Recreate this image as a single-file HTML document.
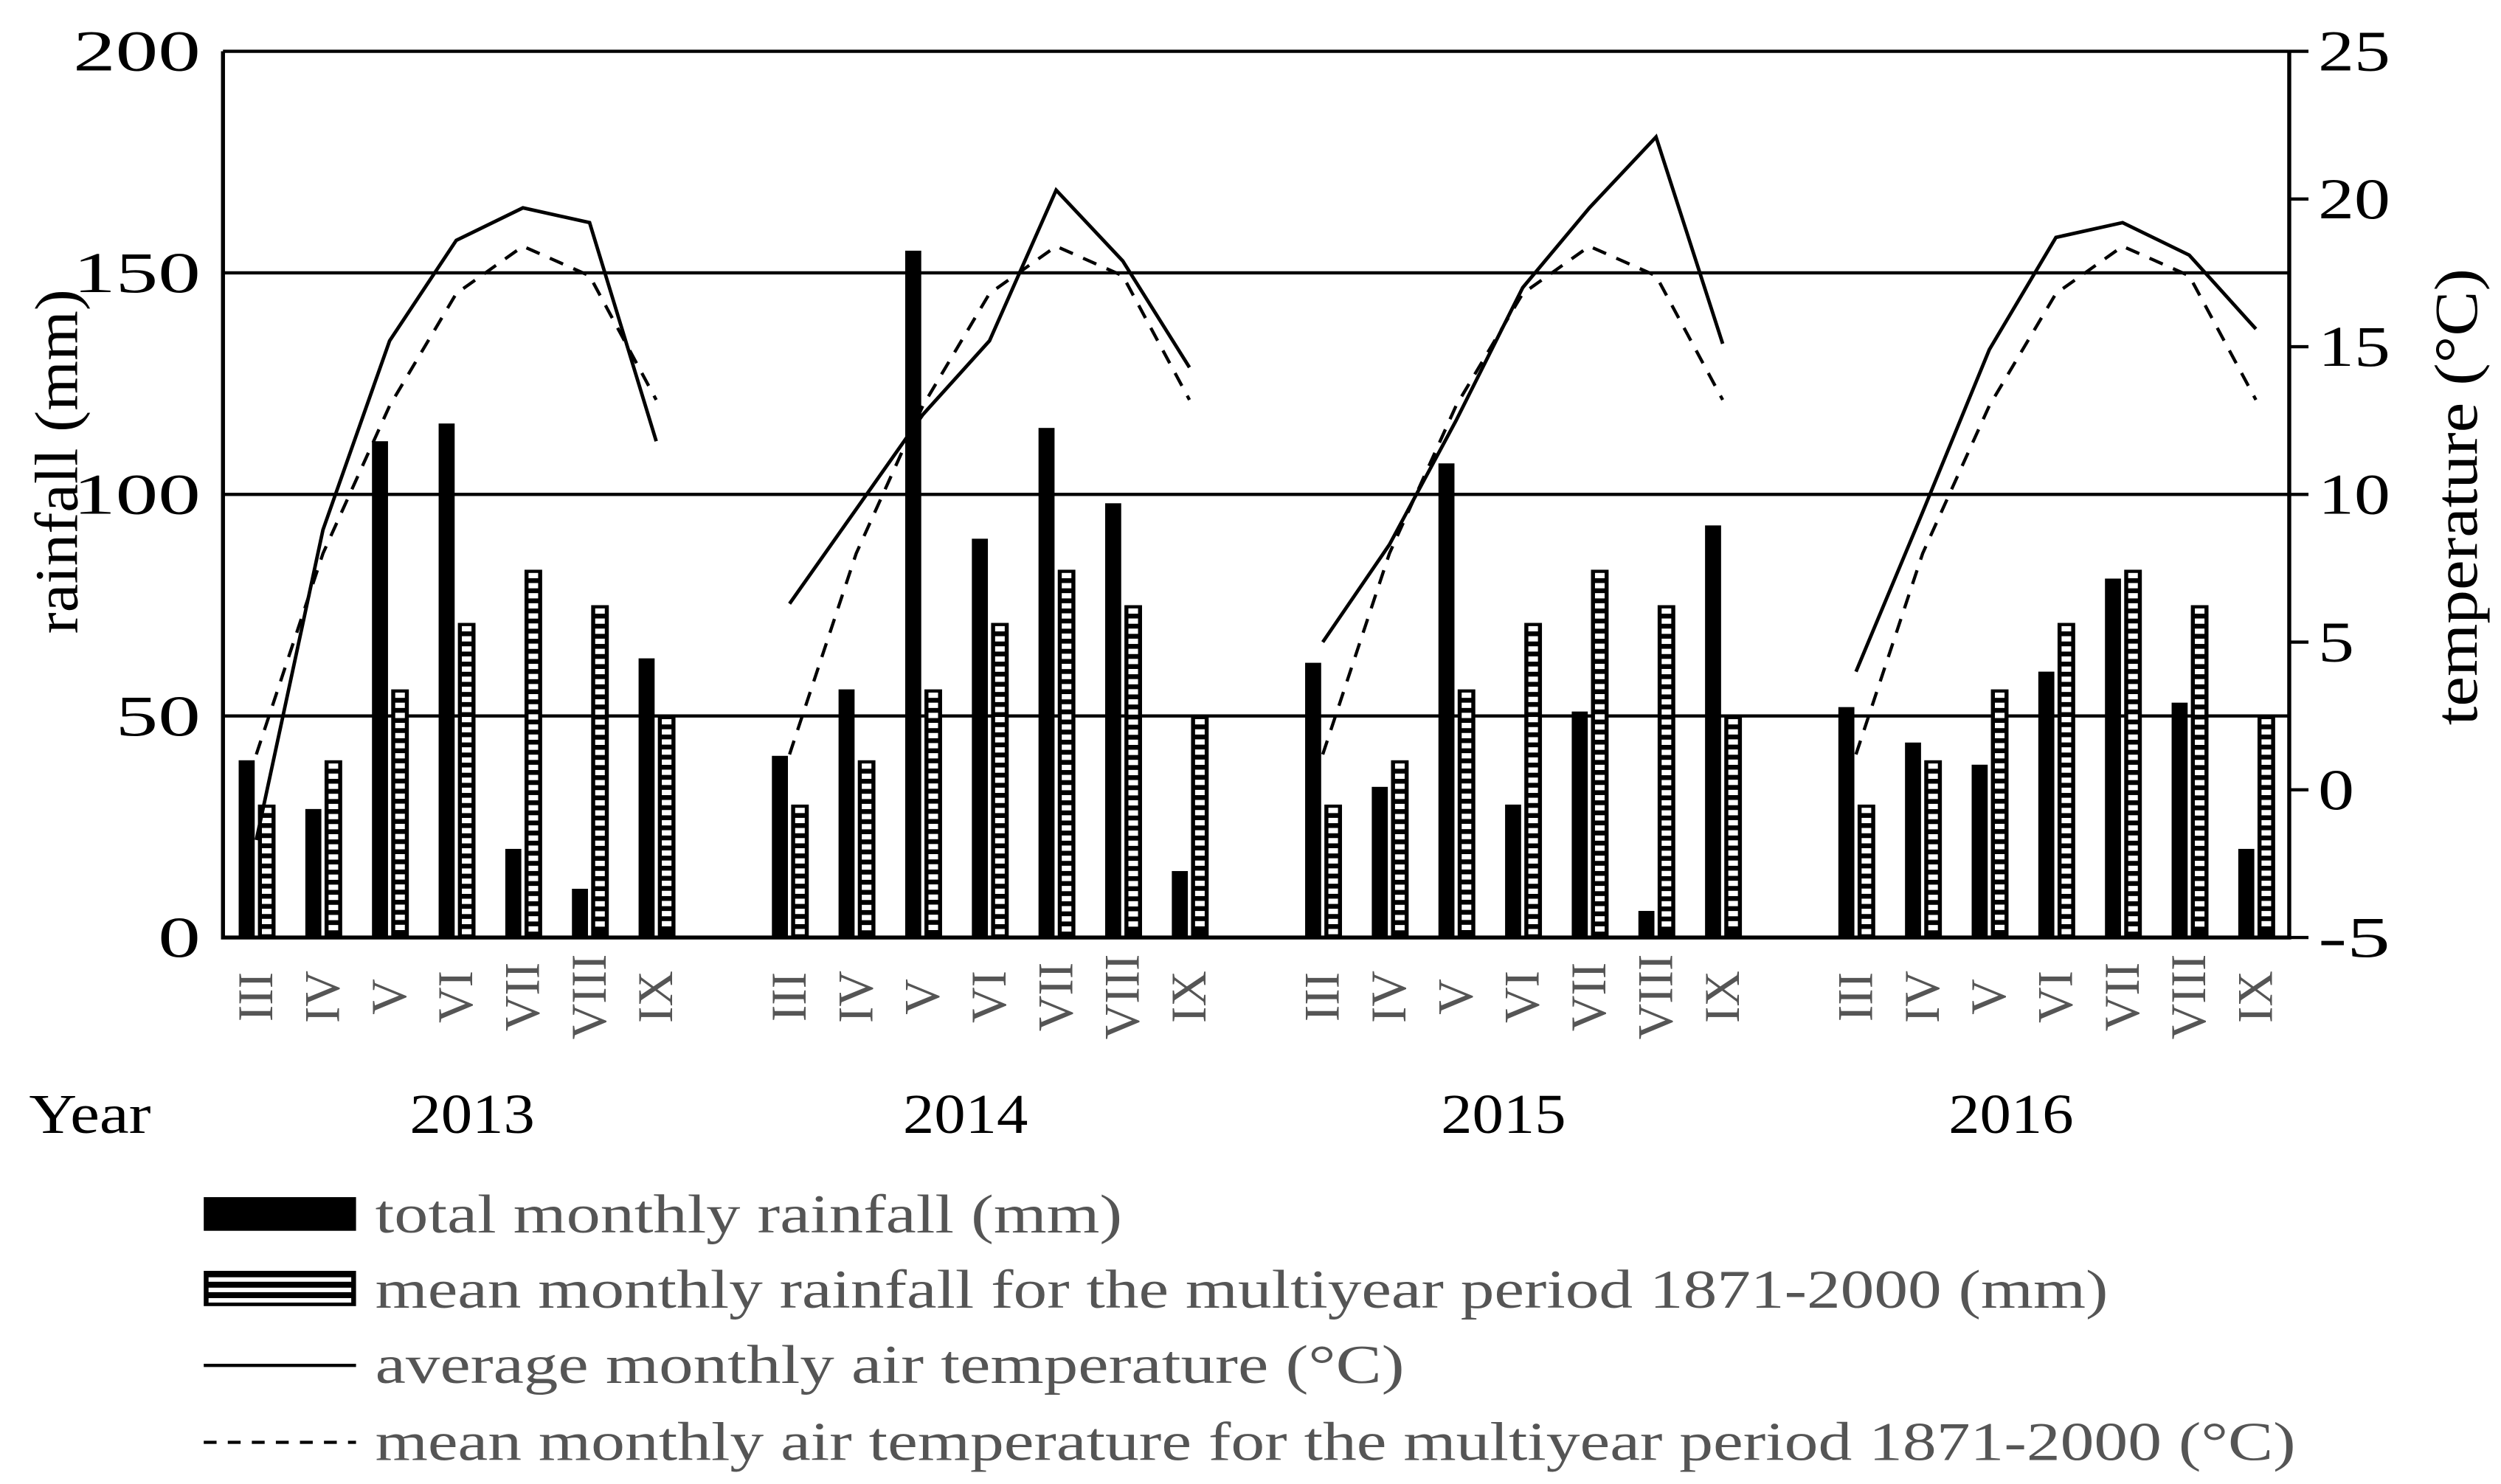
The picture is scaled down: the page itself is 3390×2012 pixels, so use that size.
<!DOCTYPE html>
<html><head><meta charset="utf-8"><style>
html,body{margin:0;padding:0;background:#fff}
svg{display:block}
text{font-family:"Liberation Serif",serif}
</style></head><body>
<svg id="chart" width="3390" height="2012" viewBox="0 0 1560 926" xmlns="http://www.w3.org/2000/svg">
<g id="grid"></g>
<g id="bars"></g>
<g id="lines"></g>
<g id="axes"></g>
<text x="48" y="288" font-size="38" text-anchor="middle" textLength="215" lengthAdjust="spacingAndGlyphs" transform="rotate(-90 48 288)">rainfall (mm)</text>
<text x="1545" y="310" font-size="38" text-anchor="middle" textLength="285" lengthAdjust="spacingAndGlyphs" transform="rotate(-90 1545 310)">temperature (°C)</text>
<text x="18" y="707" font-size="35" textLength="76" lengthAdjust="spacingAndGlyphs">Year</text>
<g>
<rect x="127" y="747" width="95" height="21" fill="#000"/>
<text x="234" y="769" font-size="34" fill="#555" textLength="466" lengthAdjust="spacingAndGlyphs">total monthly rainfall (mm)</text>
<g id="legHatch"></g>
<text x="234" y="816" font-size="34" fill="#555" textLength="1081" lengthAdjust="spacingAndGlyphs">mean monthly rainfall for the multiyear period 1871-2000 (mm)</text>
<line x1="127" y1="852" x2="222" y2="852" stroke="#000" stroke-width="2"/>
<text x="234" y="863" font-size="34" fill="#555" textLength="642" lengthAdjust="spacingAndGlyphs">average monthly air temperature (°C)</text>
<line x1="127" y1="900" x2="222" y2="900" stroke="#000" stroke-width="2" stroke-dasharray="8,7"/>
<text x="234" y="911" font-size="34" fill="#555" textLength="1198" lengthAdjust="spacingAndGlyphs">mean monthly air temperature for the multiyear period 1871-2000 (°C)</text>
</g>
</svg>
<script>
const years = ["2013","2014","2015","2016"];
const months = ["III","IV","V","VI","VII","VIII","IX"];
const rain2013 = [40,29,112,116,20,11,63];
const rain2014 = [41,56,155,90,115,98,15];
const rain2015 = [62,34,107,30,51,6,93];
const rain2016 = [52,44,39,60,81,53,20];
const rainMean = [30,40,56,71,83,75,50];
const temp2013 = [-1.7,8.8,15.2,18.6,19.7,19.2,11.8];
const temp2014 = [6.3,9.5,12.7,15.2,20.3,17.9,14.3];
const temp2015 = [5.0,8.3,12.5,17.0,19.7,22.1,15.1];
const temp2016 = [4.0,9.4,14.9,18.7,19.2,18.1,15.6];
const tempMean = [1.2,8.0,13.0,16.8,18.4,17.4,13.2];
const rainTicks = [0,50,100,150,200];
const tempTicks = [-5,0,5,10,15,20,25];

const rainYears=[rain2013,rain2014,rain2015,rain2016];
const tempYears=[temp2013,temp2014,temp2015,temp2016];
const yearOffset=[10,-15,-12,-28];
const NS="http://www.w3.org/2000/svg";
const L=139,R=1428,T=32,B=585,slot=(R-L)/31;
const yR=v=>B-v*(B-T)/200;
const yT=v=>B-(v+5)*(B-T)/30;
const xC=(g,m)=>L+(g*8+m+0.5)*slot;
function mk(p,tag,at){const e=document.createElementNS(NS,tag);for(const k in at)e.setAttribute(k,at[k]);p.appendChild(e);return e;}
const grid=document.getElementById('grid'),bars=document.getElementById('bars'),lines=document.getElementById('lines'),axes=document.getElementById('axes');
rainTicks.forEach(v=>{
  if(v>0){const g=mk(grid,'line',{x1:L,x2:R,y1:yR(v),y2:yR(v),stroke:'#000','stroke-width':2});
  
  }
  const s=String(v);
  const t=mk(axes,'text',{x:125,y:yR(v)+12,'font-size':36,'text-anchor':'end',textLength:s.length*26.5,lengthAdjust:'spacingAndGlyphs'});t.textContent=s;
  
  
});
tempTicks.forEach(v=>{
  const tk=mk(axes,'line',{x1:R,x2:R+12,y1:yT(v),y2:yT(v),stroke:'#000','stroke-width':2});
  
  
  const s=String(v);
  const t=mk(axes,'text',{x:1446,y:yT(v)+12,'font-size':36,textLength:s.length*22.5,lengthAdjust:'spacingAndGlyphs'});t.textContent=s;
  
  
});
const ax=mk(axes,'path',{d:`M${L} ${T}V${B}H${R}V${T}`,fill:'none',stroke:'#000','stroke-width':2.5});


function hatch(p,x,y,w,h){
  mk(p,'rect',{x:x,y:y,width:w,height:h,fill:'#000'});
  for(let yy=y+2;yy+3<=y+h-1;yy+=6.3){mk(p,'rect',{x:x+2.5,y:yy,width:w-5,height:3.3,fill:'#fff'});}
}
years.forEach((yr,g)=>{
  months.forEach((m,i)=>{
    const c=xC(g,i);
    const b=mk(bars,'rect',{x:c-11,y:yR(rainYears[g][i]),width:10,height:B-yR(rainYears[g][i]),fill:'#000'});
    
    
    const hg=mk(bars,'g',{});
    
    
    hatch(hg,c+1,yR(rainMean[i]),11,B-yR(rainMean[i]));
    const t=mk(axes,'text',{x:0,y:0,'font-size':31,fill:'#555','text-anchor':'middle',transform:`translate(${c+10},622) rotate(-90)`});
    t.textContent=m;
    
    
  });
  const yt=mk(axes,'text',{x:(xC(g,0)+xC(g,6))/2+yearOffset[g],y:707,'font-size':35,'text-anchor':'middle',textLength:78,lengthAdjust:'spacingAndGlyphs'});yt.textContent=yr;
  
  
  const pts=tempYears[g].map((v,i)=>xC(g,i)+','+yT(v)).join(' ');
  const s=mk(lines,'polyline',{points:pts,fill:'none',stroke:'#000','stroke-width':2.2});
  
  
  const dp=tempMean.map((v,i)=>xC(g,i)+','+yT(v)).join(' ');
  const d=mk(lines,'polyline',{points:dp,fill:'none',stroke:'#000','stroke-width':2,'stroke-dasharray':'9,7'});
  
  
});
const lh=document.getElementById('legHatch');
mk(lh,'rect',{x:127,y:793,width:95,height:22,fill:'#000'});
[797,803.5,810].forEach(yy=>mk(lh,'rect',{x:130,y:yy,width:89,height:2.8,fill:'#fff'}));
</script>
</body></html>
